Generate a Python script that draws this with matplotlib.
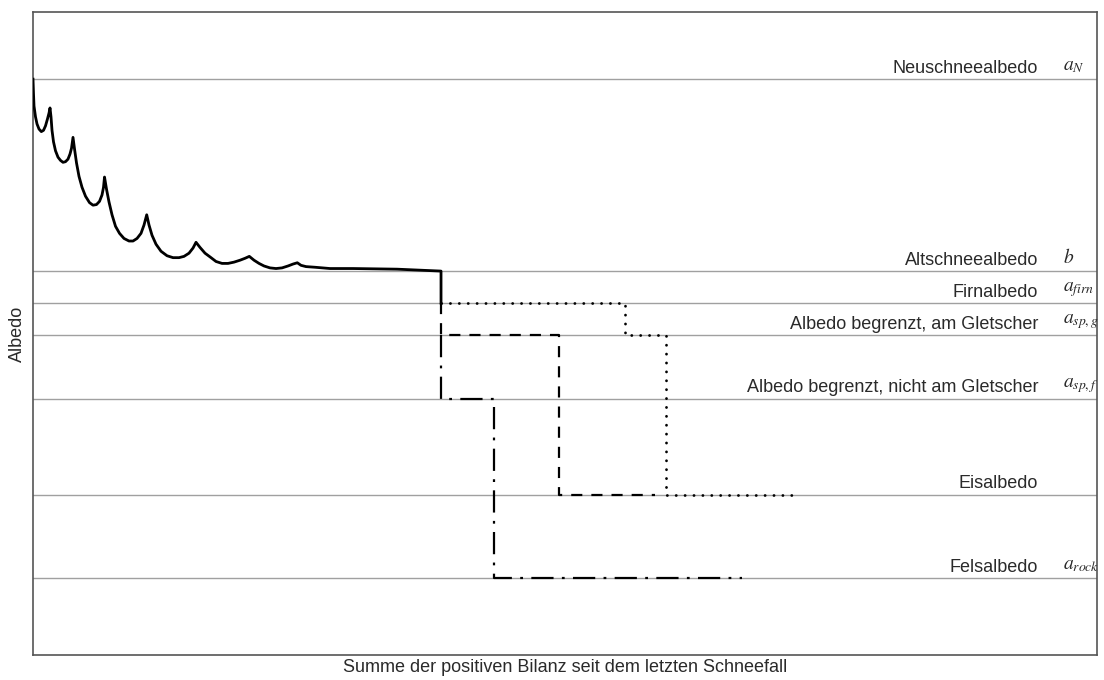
"""Albedo-Verlauf in Abhaengigkeit der positiven Bilanz seit dem letzten Schneefall."""

import matplotlib
matplotlib.use("Agg")
import matplotlib.pyplot as plt

plt.rcParams['font.family'] = ['Liberation Sans', 'DejaVu Sans']
plt.rcParams['mathtext.fontset'] = 'stix'
plt.rcParams['lines.scale_dashes'] = False

# albedo levels (horizontal reference lines)
level_names = ['Neuschneealbedo', 'Altschneealbedo', 'Firnalbedo',
               'Albedo begrenzt, am Gletscher', 'Albedo begrenzt, nicht am Gletscher',
               'Eisalbedo', 'Felsalbedo']
level_symbols = [r'$a_{N}$', r'$b$', r'$a_{firn}$', r'$a_{sp,g}$', r'$a_{sp,f}$',
                 '', r'$a_{rock}$']
level_values = [0.85, 0.55, 0.50, 0.45, 0.35, 0.20, 0.07]

# snow albedo decay with repeated fresh snowfalls (solid line), x in arbitrary units
snow_x = [0, 0.5, 1, 2.5, 4, 6, 8.3, 10.5, 12.5, 14.5, 16, 17,
          18, 19, 20.5, 22.5, 25, 27.5, 30, 32.5, 35, 37, 38.5, 40,
          41.5, 43.5, 46, 49, 52.5, 56.5, 60, 63.5, 66.5, 69, 70.5, 71.5,
          73.5, 76, 79, 82.5, 86.5, 91, 96, 100, 104, 108, 111, 113.7,
          116, 119, 123, 128, 134, 140, 146, 151, 156, 160, 163,
          167, 172, 178, 183, 189, 195, 201, 207, 212, 216.3,
          221, 226, 231, 237, 243, 249, 255, 260, 264.3,
          268, 273, 282, 297, 320, 364, 408, 408]
snow_y = [0.850, 0.827, 0.808, 0.791, 0.780, 0.772, 0.768, 0.770, 0.777, 0.788, 0.797, 0.805,
          0.791, 0.770, 0.752, 0.738, 0.728, 0.723, 0.720, 0.721, 0.725, 0.733, 0.742, 0.759,
          0.741, 0.719, 0.698, 0.681, 0.667, 0.657, 0.653, 0.654, 0.659, 0.669, 0.681, 0.697,
          0.678, 0.658, 0.638, 0.620, 0.609, 0.601, 0.597, 0.597, 0.601, 0.609, 0.622, 0.638,
          0.622, 0.606, 0.592, 0.581, 0.574, 0.571, 0.571, 0.573, 0.578, 0.586, 0.595,
          0.587, 0.578, 0.571, 0.565, 0.562, 0.562, 0.564, 0.567, 0.570, 0.573,
          0.567, 0.562, 0.558, 0.555, 0.554, 0.555, 0.558, 0.561, 0.563,
          0.559, 0.557, 0.556, 0.554, 0.554, 0.553, 0.550, 0.500]

# firn path (dotted)
firn_x = [408, 592, 592, 633, 633, 760]
firn_y = [0.50, 0.50, 0.45, 0.45, 0.20, 0.20]

# limited albedo on glacier (dashed)
glacier_x = [408, 408, 526, 526, 622]
glacier_y = [0.50, 0.45, 0.45, 0.20, 0.20]

# limited albedo off glacier (dash-dot)
rock_x = [408, 408, 461, 461, 709]
rock_y = [0.45, 0.35, 0.35, 0.07, 0.07]

fig = plt.figure(figsize=(11.04, 6.8), dpi=100)
ax = fig.add_axes([0.0299, 0.0368, 0.9638, 0.9456])

for val in level_values:
    ax.axhline(val, color='#a0a0a0', lw=1.0, zorder=1)

ax.plot(snow_x, snow_y, color='black', lw=2.0, solid_joinstyle='round', zorder=3)
ax.plot(firn_x, firn_y, color='black', lw=2.0, linestyle=(0, (0.1, 6.3)),
        dash_capstyle='round', zorder=3)
ax.plot(glacier_x, glacier_y, color='black', lw=1.6, linestyle=(0, (8, 6.5)), zorder=3)
ax.plot(rock_x, rock_y, color='black', lw=1.6, linestyle=(0, (16, 6, 2, 6)), zorder=3)

for name, sym, val in zip(level_names, level_symbols, level_values):
    ax.text(1005, val + 0.004, name, ha='right', va='bottom', fontsize=13, color='#2a2a2a')
    if sym:
        ax.text(1030, val + 0.006, sym, ha='left', va='bottom', fontsize=14, color='#2a2a2a')

ax.set_xlim(0, 1064)
ax.set_ylim(-0.05, 0.955)
ax.set_xticks([])
ax.set_yticks([])
for spine in ax.spines.values():
    spine.set_color('#555555')
    spine.set_linewidth(1.2)

ax.set_xlabel('Summe der positiven Bilanz seit dem letzten Schneefall', fontsize=13,
              color='#2a2a2a', labelpad=3)
ax.set_ylabel('Albedo', fontsize=13, color='#2a2a2a', labelpad=5)

plt.savefig('out.png', dpi=100)
